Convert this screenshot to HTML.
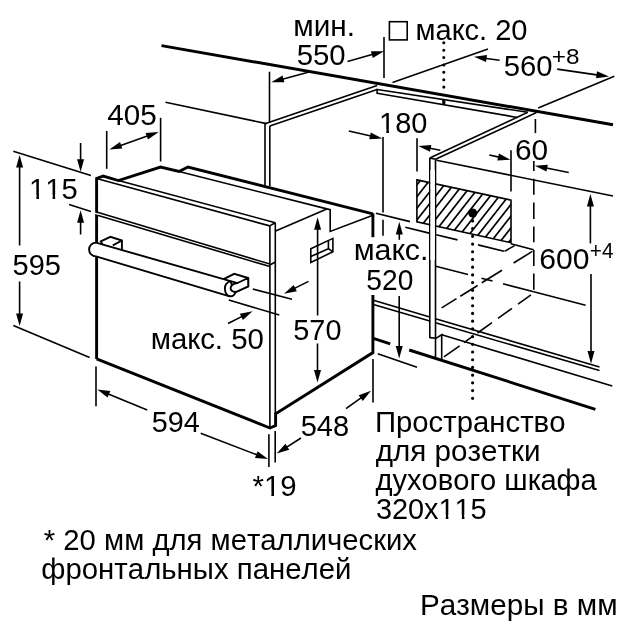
<!DOCTYPE html>
<html><head><meta charset="utf-8"><title>Oven installation dimensions</title>
<style>
html,body{margin:0;padding:0;background:#fff;}
svg{display:block;}
svg text{font-family:"Liberation Sans",sans-serif;fill:#000;stroke:none;font-kerning:none;}
svg{filter:grayscale(1);}
</style></head><body>
<svg width="625" height="625" viewBox="0 0 625 625" stroke="#000" fill="none">
<rect x="0" y="0" width="625" height="625" fill="#fff" stroke="none"/>
<path d="M161.5,45.6 L613.0,124.7" stroke-width="2.9" stroke-linecap="butt"/>
<path d="M377.1,89.5 L527.8,112.3" stroke-width="1.6" stroke-linecap="butt"/>
<path d="M377.1,93.2 L517.6,117.5" stroke-width="1.6" stroke-linecap="butt"/>
<path d="M377.1,88.8 L377.1,93.9" stroke-width="1.6" stroke-linecap="butt"/>
<path d="M442.2,99.8 L445.4,100.4 L445.4,103.6 Q443.8,105.4 442.2,103.6 Z" fill="#000" stroke="none"/>
<path d="M443.8,42.8 L443.8,87.3" stroke-width="3.1" stroke-linecap="round" stroke-dasharray="0 7.38"/>
<path d="M165.5,102.2 L266.5,123.6" stroke-width="1.6" stroke-linecap="butt"/>
<path d="M265.0,123.7 L377.1,85.6" stroke-width="1.6" stroke-linecap="butt"/>
<path d="M269.8,126.0 L377.1,89.6" stroke-width="1.6" stroke-linecap="butt"/>
<path d="M265.0,123.7 L265.0,185.0" stroke-width="1.6" stroke-linecap="butt"/>
<path d="M269.8,126.0 L269.8,186.0" stroke-width="1.6" stroke-linecap="butt"/>
<path d="M429.8,158.0 L527.8,112.3" stroke-width="1.6" stroke-linecap="butt"/>
<path d="M435.5,159.3 L536.5,112.6" stroke-width="1.6" stroke-linecap="butt"/>
<path d="M429.8,158.0 L435.5,159.3" stroke-width="1.6" stroke-linecap="butt"/>
<path d="M429.8,158.0 L429.8,338.0" stroke-width="1.6" stroke-linecap="butt"/>
<path d="M435.5,159.3 L435.5,338.0" stroke-width="1.6" stroke-linecap="butt"/>
<path d="M436.5,160.3 L613.0,196.0" stroke-width="1.6" stroke-linecap="butt"/>
<defs><clipPath id="hc"><polygon points="416.9,179.9 511,200.1 511,242.7 416.9,221.8"/></clipPath></defs>
<g clip-path="url(#hc)"><path d="M334.4,232.3 L396.9,152.3" stroke-width="1.7"/><path d="M342.2,233.9 L404.7,153.9" stroke-width="1.7"/><path d="M350.0,235.6 L412.5,155.6" stroke-width="1.7"/><path d="M357.8,237.3 L420.3,157.3" stroke-width="1.7"/><path d="M365.6,239.0 L428.1,159.0" stroke-width="1.7"/><path d="M373.4,240.6 L435.9,160.6" stroke-width="1.7"/><path d="M381.2,242.3 L443.7,162.3" stroke-width="1.7"/><path d="M389.0,244.0 L451.5,164.0" stroke-width="1.7"/><path d="M396.8,245.7 L459.3,165.7" stroke-width="1.7"/><path d="M404.6,247.3 L467.1,167.3" stroke-width="1.7"/><path d="M412.4,249.0 L474.9,169.0" stroke-width="1.7"/><path d="M420.2,250.7 L482.7,170.7" stroke-width="1.7"/><path d="M428.0,252.4 L490.5,172.4" stroke-width="1.7"/><path d="M435.8,254.0 L498.3,174.0" stroke-width="1.7"/><path d="M443.6,255.7 L506.1,175.7" stroke-width="1.7"/><path d="M451.4,257.4 L513.9,177.4" stroke-width="1.7"/><path d="M459.2,259.1 L521.7,179.1" stroke-width="1.7"/><path d="M467.0,260.7 L529.5,180.7" stroke-width="1.7"/><path d="M474.8,262.4 L537.3,182.4" stroke-width="1.7"/><path d="M482.6,264.1 L545.1,184.1" stroke-width="1.7"/><path d="M490.4,265.7 L552.9,185.7" stroke-width="1.7"/><path d="M498.2,267.4 L560.7,187.4" stroke-width="1.7"/></g>
<polygon points="416.9,179.9 511.0,200.1 511.0,242.7 416.9,221.8" fill="none" stroke="#000" stroke-width="1.6" stroke-linejoin="miter"/>
<rect x="430.4" y="170" width="4.5" height="90" fill="#fff" stroke="none"/>
<circle cx="472.7" cy="213" r="4.5" fill="#000" stroke="none"/>
<path d="M472.6,220.9 L472.6,398.4" stroke-width="3.2" stroke-linecap="round" stroke-dasharray="0 7.713"/>
<path d="M375.9,213.2 L410.0,221.6" stroke-width="1.6" stroke-linecap="butt"/>
<path d="M405.3,227.3 L429.2,233.1" stroke-width="1.6" stroke-linecap="butt"/>
<path d="M436.2,234.8 L457.5,239.9" stroke-width="1.6" stroke-linecap="butt"/>
<path d="M478.0,244.9 L504.0,251.2" stroke-width="1.6" stroke-linecap="butt"/>
<path d="M504.5,251.4 L514.5,245.6" stroke-width="1.6" stroke-linecap="butt"/>
<path d="M510.8,243.8 L533.7,249.8" stroke-width="1.6" stroke-linecap="butt"/>
<path d="M533.8,160.9 L533.8,171.1" stroke-width="1.6" stroke-linecap="butt"/>
<path d="M533.8,178.8 L533.8,194.8" stroke-width="1.6" stroke-linecap="butt"/>
<path d="M533.8,202.5 L533.8,219.1" stroke-width="1.6" stroke-linecap="butt"/>
<path d="M533.8,226.5 L533.8,242.3" stroke-width="1.6" stroke-linecap="butt"/>
<path d="M533.8,250.0 L533.8,266.0" stroke-width="1.6" stroke-linecap="butt"/>
<path d="M533.8,273.6 L533.8,289.8" stroke-width="1.6" stroke-linecap="butt"/>
<path d="M532.3,251.4 L513.6,263.0" stroke-width="1.6" stroke-linecap="butt"/>
<path d="M502.0,270.3 L481.8,282.8" stroke-width="1.6" stroke-linecap="butt"/>
<path d="M477.6,285.5 L460.3,296.2" stroke-width="1.6" stroke-linecap="butt"/>
<path d="M456.5,298.6 L441.6,307.9" stroke-width="1.6" stroke-linecap="butt"/>
<path d="M435.8,266.2 L468.0,274.6" stroke-width="1.6" stroke-linecap="butt"/>
<path d="M481.5,278.2 L492.5,281.0" stroke-width="1.6" stroke-linecap="butt"/>
<path d="M503.0,283.8 L533.7,291.8" stroke-width="1.6" stroke-linecap="butt"/>
<path d="M533.7,291.8 L585.6,305.3" stroke-width="1.6" stroke-linecap="butt"/>
<path d="M531.0,294.9 L518.0,304.2" stroke-width="1.6" stroke-linecap="butt"/>
<path d="M512.0,308.4 L498.0,318.4" stroke-width="1.6" stroke-linecap="butt"/>
<path d="M492.0,322.7 L477.5,333.0" stroke-width="1.6" stroke-linecap="butt"/>
<path d="M473.0,336.2 L464.0,342.6" stroke-width="1.6" stroke-linecap="butt"/>
<path d="M459.6,345.8 L443.9,356.9" stroke-width="1.6" stroke-linecap="butt"/>
<path d="M373.4,300.2 L429.8,317.0" stroke-width="1.6" stroke-linecap="butt"/>
<path d="M435.5,318.7 L599.5,367.0" stroke-width="1.6" stroke-linecap="butt"/>
<path d="M373.4,304.5 L429.8,321.0" stroke-width="1.6" stroke-linecap="butt"/>
<path d="M435.5,322.7 L599.5,370.6" stroke-width="1.6" stroke-linecap="butt"/>
<path d="M441.7,334.8 L612.3,386.0" stroke-width="1.6" stroke-linecap="butt"/>
<path d="M373.4,338.4 L390.2,343.8" stroke-width="2.9" stroke-linecap="butt"/>
<path d="M409.2,350.0 L595.4,409.3" stroke-width="2.9" stroke-linecap="butt"/>
<path d="M377.8,353.8 L417.0,367.3" stroke-width="1.6" stroke-linecap="butt"/>
<path d="M429.8,337.6 L436.2,338.3" stroke-width="1.6" stroke-linecap="butt"/>
<path d="M435.5,338.0 L435.5,357.5" stroke-width="1.6" stroke-linecap="butt"/>
<path d="M435.8,338.4 L441.7,334.8 L441.7,359.0" stroke-width="1.6" stroke-linecap="butt"/>
<path d="M106.7,131.0 L106.7,168.8" stroke-width="1.6" stroke-linecap="butt"/>
<path d="M160.6,117.8 L160.6,161.5" stroke-width="1.6" stroke-linecap="butt"/>
<path d="M134.0,140.7 L119.3,145.9" stroke-width="1.6" stroke-linecap="butt"/>
<polygon points="109.3,149.4 120.0,141.9 122.3,148.5" fill="#000" stroke="none"/>
<path d="M134.0,140.7 L148.7,135.6" stroke-width="1.6" stroke-linecap="butt"/>
<polygon points="158.7,132.1 148.0,139.5 145.6,132.9" fill="#000" stroke="none"/>
<path d="M13.3,151.3 L90.9,175.6" stroke-width="1.6" stroke-linecap="butt"/>
<path d="M69.1,204.5 L90.9,211.4" stroke-width="1.6" stroke-linecap="butt"/>
<path d="M80.6,143.0 L80.6,161.2" stroke-width="1.6" stroke-linecap="butt"/>
<polygon points="80.6,171.8 77.1,159.2 84.1,159.2" fill="#000" stroke="none"/>
<path d="M80.6,234.5 L80.6,220.8" stroke-width="1.6" stroke-linecap="butt"/>
<polygon points="80.6,210.2 84.1,222.8 77.1,222.8" fill="#000" stroke="none"/>
<path d="M19.6,245.5 L19.6,165.6" stroke-width="1.6" stroke-linecap="butt"/>
<polygon points="19.6,155.0 23.1,167.6 16.1,167.6" fill="#000" stroke="none"/>
<path d="M19.6,281.5 L19.6,315.4" stroke-width="1.6" stroke-linecap="butt"/>
<polygon points="19.6,326.0 16.1,313.4 23.1,313.4" fill="#000" stroke="none"/>
<path d="M13.3,325.6 L89.6,357.6" stroke-width="1.6" stroke-linecap="butt"/>
<path d="M96.0,366.6 L96.0,406.2" stroke-width="1.6" stroke-linecap="butt"/>
<path d="M147.2,410.0 L107.1,393.6" stroke-width="1.6" stroke-linecap="butt"/>
<polygon points="97.3,389.6 110.3,391.1 107.6,397.6" fill="#000" stroke="none"/>
<path d="M200.7,433.3 L258.1,455.3" stroke-width="1.6" stroke-linecap="butt"/>
<polygon points="268.0,459.1 255.0,457.9 257.5,451.3" fill="#000" stroke="none"/>
<path d="M268.9,434.2 L268.9,467.0" stroke-width="1.6" stroke-linecap="butt"/>
<path d="M275.2,431.0 L275.2,462.5" stroke-width="1.6" stroke-linecap="butt"/>
<path d="M301.0,438.0 L285.6,447.9" stroke-width="1.6" stroke-linecap="butt"/>
<polygon points="276.7,453.6 285.4,443.8 289.2,449.7" fill="#000" stroke="none"/>
<path d="M346.0,408.6 L362.4,396.9" stroke-width="1.6" stroke-linecap="butt"/>
<polygon points="371.0,390.7 362.8,400.9 358.7,395.2" fill="#000" stroke="none"/>
<path d="M373.0,358.9 L373.0,402.4" stroke-width="1.6" stroke-linecap="butt"/>
<path d="M317.6,315.5 L317.6,227.8" stroke-width="1.6" stroke-linecap="butt"/>
<polygon points="317.6,217.2 321.1,229.8 314.1,229.8" fill="#000" stroke="none"/>
<path d="M317.5,343.5 L317.5,372.0" stroke-width="1.6" stroke-linecap="butt"/>
<polygon points="317.5,382.6 314.0,370.0 321.0,370.0" fill="#000" stroke="none"/>
<path d="M252.8,289.1 L292.0,299.2" stroke-width="1.6" stroke-linecap="butt"/>
<path d="M228.8,300.0 L279.3,315.0" stroke-width="1.6" stroke-linecap="butt"/>
<path d="M308.5,281.4 L293.5,288.9" stroke-width="1.6" stroke-linecap="butt"/>
<polygon points="284.0,293.7 293.7,284.9 296.8,291.2" fill="#000" stroke="none"/>
<path d="M228.0,323.5 L243.1,315.9" stroke-width="1.6" stroke-linecap="butt"/>
<polygon points="252.6,311.2 242.9,320.0 239.8,313.7" fill="#000" stroke="none"/>
<path d="M269.5,71.7 L269.5,123.0" stroke-width="1.6" stroke-linecap="butt"/>
<path d="M310.0,71.7 L281.5,79.4" stroke-width="1.6" stroke-linecap="butt"/>
<polygon points="271.3,82.2 282.5,75.5 284.4,82.3" fill="#000" stroke="none"/>
<path d="M347.5,61.5 L373.8,54.1" stroke-width="1.6" stroke-linecap="butt"/>
<polygon points="384.0,51.2 372.8,58.0 370.9,51.3" fill="#000" stroke="none"/>
<path d="M384.0,37.0 L384.0,78.1" stroke-width="1.6" stroke-linecap="butt"/>
<path d="M392.5,82.5 L488.0,49.0" stroke-width="1.6" stroke-linecap="butt"/>
<path d="M499.6,60.2 L484.5,58.2" stroke-width="1.6" stroke-linecap="butt"/>
<polygon points="474.0,56.8 487.0,55.0 486.0,61.9" fill="#000" stroke="none"/>
<path d="M557.2,69.1 L598.5,75.1" stroke-width="1.6" stroke-linecap="butt"/>
<polygon points="609.0,76.6 596.0,78.3 597.0,71.3" fill="#000" stroke="none"/>
<path d="M538.2,108.1 L614.3,76.3" stroke-width="1.6" stroke-linecap="butt"/>
<path d="M348.8,131.0 L372.0,136.3" stroke-width="1.6" stroke-linecap="butt"/>
<polygon points="382.3,138.6 369.2,139.2 370.8,132.4" fill="#000" stroke="none"/>
<path d="M383.0,137.0 L383.0,212.6" stroke-width="1.6" stroke-linecap="butt"/>
<path d="M383.0,219.8 L383.0,235.8" stroke-width="1.6" stroke-linecap="butt"/>
<path d="M417.0,138.2 L417.0,171.5" stroke-width="1.6" stroke-linecap="butt"/>
<path d="M440.3,150.2 L428.7,148.0" stroke-width="1.6" stroke-linecap="butt"/>
<polygon points="418.3,146.0 431.3,144.9 430.0,151.8" fill="#000" stroke="none"/>
<path d="M535.4,119.0 L535.4,133.1" stroke-width="1.6" stroke-linecap="butt"/>
<path d="M489.3,155.0 L500.1,157.4" stroke-width="1.6" stroke-linecap="butt"/>
<polygon points="510.4,159.8 497.3,160.4 498.9,153.6" fill="#000" stroke="none"/>
<path d="M511.0,150.2 L511.0,191.5" stroke-width="1.6" stroke-linecap="butt"/>
<path d="M568.7,172.5 L545.2,167.8" stroke-width="1.6" stroke-linecap="butt"/>
<polygon points="534.8,165.7 547.8,164.7 546.5,171.6" fill="#000" stroke="none"/>
<path d="M590.4,243.4 L590.4,204.6" stroke-width="1.6" stroke-linecap="butt"/>
<polygon points="590.4,194.0 593.9,206.6 586.9,206.6" fill="#000" stroke="none"/>
<path d="M591.0,274.0 L591.0,353.1" stroke-width="1.6" stroke-linecap="butt"/>
<polygon points="591.0,363.7 587.5,351.1 594.5,351.1" fill="#000" stroke="none"/>
<path d="M399.3,239.8 L399.3,232.4" stroke-width="1.6" stroke-linecap="butt"/>
<polygon points="399.3,221.8 402.8,234.4 395.8,234.4" fill="#000" stroke="none"/>
<path d="M399.2,295.9 L399.2,347.9" stroke-width="1.6" stroke-linecap="butt"/>
<polygon points="399.2,358.5 395.7,345.9 402.7,345.9" fill="#000" stroke="none"/>
<path d="M96.6,358.9 L96.6,178.5 L103.2,176.1 L118.4,180.6 L160.5,167.0 L179.0,171.5 L188.0,167.0 L372.9,213.8" stroke-width="2.9" stroke-linecap="butt" stroke-linejoin="miter"/>
<path d="M372.9,213.4 L372.9,237.2" stroke-width="2.9" stroke-linecap="butt"/>
<path d="M372.9,295.0 L372.9,352.6 L275.6,413.8 L275.6,425.6 L270.0,428.0 L96.6,358.9" stroke-width="2.9" stroke-linecap="butt" stroke-linejoin="miter"/>
<path d="M179.0,171.5 L326.8,208.9" stroke-width="1.6" stroke-linecap="butt"/>
<path d="M326.8,208.9 L275.6,231.0" stroke-width="1.6" stroke-linecap="butt"/>
<path d="M326.8,208.9 L330.2,209.6 L330.2,231.4 L372.9,215.3" stroke-width="1.6" stroke-linecap="butt"/>
<path d="M96.6,178.5 L269.7,225.9" stroke-width="1.7" stroke-linecap="butt"/>
<path d="M118.4,180.6 L275.3,222.7" stroke-width="1.6" stroke-linecap="butt"/>
<path d="M269.7,225.9 L275.3,222.7" stroke-width="1.6" stroke-linecap="butt"/>
<path d="M269.9,225.9 L269.9,427.0" stroke-width="1.6" stroke-linecap="butt"/>
<path d="M275.3,222.7 L275.3,414.0" stroke-width="1.6" stroke-linecap="butt"/>
<path d="M96.6,212.0 L269.9,264.0" stroke-width="1.6" stroke-linecap="butt"/>
<path d="M96.6,215.0 L269.9,266.6" stroke-width="1.6" stroke-linecap="butt"/>
<path d="M269.9,265.0 L275.3,262.0" stroke-width="1.6" stroke-linecap="butt"/>
<path d="M94.0,212.9 L98.6,214.3" stroke-width="1.3" stroke-linecap="butt" style="stroke:#fff"/>
<polygon points="310.8,248.8 332.9,238.4 332.9,251.8 310.8,262.4" fill="none" stroke="#000" stroke-width="1.6" stroke-linejoin="miter"/>
<path d="M328.4,240.5 L328.4,248.7 L310.8,256.6" stroke-width="1.6" stroke-linecap="butt"/>
<path d="M328.4,248.7 L332.9,251.8" stroke-width="1.6" stroke-linecap="butt"/>
<polygon points="100.8,241.4 110.4,236.8 121.9,240.5 121.9,251.0 104.0,247.0" fill="#fff" stroke="#000" stroke-width="1.9" stroke-linejoin="miter"/>
<path d="M112.8,245.4 L121.9,240.5" stroke-width="1.9" stroke-linecap="butt"/>
<polygon points="224.1,278.8 234.2,273.8 248.2,278.0 248.2,286.4 235.8,292.0 228.0,292.0" fill="#fff" stroke="#000" stroke-width="1.9" stroke-linejoin="miter"/>
<path d="M96,242.6 L237.5,283.2 L236,292 L229.7,296.3 L96,256.4 A6.9,6.9 0 0 1 96,242.6 Z" stroke="none" style="stroke:none" fill="#fff"/>
<path d="M237.5,283.2 L96,242.6 A6.9,6.9 0 0 0 96,256.4 L229.7,296.3" stroke-width="1.9" fill="none" stroke-linejoin="round"/>
<path d="M230.2,281.2 C226.8,282.5 224.8,285.5 224.9,288.8 C225,292.5 226.8,296 230,296.3 C233,296.5 234.8,294.6 235.6,292 Z" stroke-width="1.9" fill="#fff" stroke-linejoin="round"/>
<path d="M248.2,278 L237.5,283 C233.5,283.6 230.6,285.8 230.6,288.3 C230.6,290.6 232.5,291.8 235.8,292 L248.2,286.4 Z" stroke-width="1.9" fill="#fff" stroke-linejoin="round"/>
<g transform="translate(107.32,125) scale(0.9874,1)"><text font-size="30">405</text></g>
<g transform="translate(293.24,35.7) scale(0.9919,1)"><text font-size="30">мин.</text></g>
<g transform="translate(296.63,64.8) scale(0.9773,1)"><text font-size="30">550</text></g>
<rect x="389.4" y="21.7" width="17.8" height="18.2" fill="none" stroke="#000" stroke-width="1.6"/>
<g transform="translate(415.58,40) scale(0.9695,1)"><text font-size="30">макс. 20</text></g>
<g transform="translate(503.63,75.5) scale(0.9752,1)"><text font-size="30">560</text></g>
<g transform="translate(551.81,64.2) scale(1.1062,1)"><text font-size="22">+8</text></g>
<g transform="translate(379.01,133) scale(0.9675,1)"><text font-size="30">180</text><rect x="1.46" y="-3.66" width="6.08" height="4.69" fill="#fff" stroke="none"/><rect x="10.20" y="-3.66" width="5.92" height="4.69" fill="#fff" stroke="none"/></g>
<g transform="translate(514.89,160) scale(0.9943,1)"><text font-size="30">60</text></g>
<g transform="translate(29.10,198.6) scale(0.9693,1)"><text font-size="30">115</text><rect x="1.46" y="-3.66" width="6.08" height="4.69" fill="#fff" stroke="none"/><rect x="10.20" y="-3.66" width="5.92" height="4.69" fill="#fff" stroke="none"/><rect x="18.15" y="-3.66" width="6.08" height="4.69" fill="#fff" stroke="none"/><rect x="26.88" y="-3.66" width="5.92" height="4.69" fill="#fff" stroke="none"/></g>
<g transform="translate(12.54,275.2) scale(0.9665,1)"><text font-size="30">595</text></g>
<rect x="354" y="243" width="72" height="50" fill="#fff" stroke="none"/>
<g transform="translate(353.69,259.8) scale(1.0152,1)"><text font-size="30">макс.</text></g>
<g transform="translate(366.37,289.8) scale(0.9375,1)"><text font-size="30">520</text></g>
<g transform="translate(539.27,269) scale(1.0030,1)"><text font-size="30">600</text></g>
<g transform="translate(589.79,257.8) scale(0.9416,1)"><text font-size="22">+4</text></g>
<g transform="translate(150.76,348.6) scale(0.9802,1)"><text font-size="30">макс. 50</text></g>
<g transform="translate(293.35,339.8) scale(0.9606,1)"><text font-size="30">570</text></g>
<g transform="translate(151.65,431.8) scale(0.9589,1)"><text font-size="30">594</text></g>
<g transform="translate(300.64,435.7) scale(0.9674,1)"><text font-size="30">548</text></g>
<g transform="translate(252.53,496.4) scale(0.9805,1)"><text font-size="30">*19</text><rect x="13.14" y="-3.66" width="6.08" height="4.69" fill="#fff" stroke="none"/><rect x="21.87" y="-3.66" width="5.92" height="4.69" fill="#fff" stroke="none"/></g>
<g transform="translate(374.92,431.5) scale(0.9776,1)"><text font-size="30">Пространство</text></g>
<g transform="translate(375.71,460.5) scale(0.9876,1)"><text font-size="30">для розетки</text></g>
<g transform="translate(375.52,489.5) scale(0.9705,1)"><text font-size="30">духового шкафа</text></g>
<g transform="translate(375.90,518.5) scale(0.9627,1)"><text font-size="30">320x115</text><rect x="66.52" y="-3.66" width="6.08" height="4.69" fill="#fff" stroke="none"/><rect x="75.25" y="-3.66" width="5.92" height="4.69" fill="#fff" stroke="none"/><rect x="83.20" y="-3.66" width="6.08" height="4.69" fill="#fff" stroke="none"/><rect x="91.93" y="-3.66" width="5.92" height="4.69" fill="#fff" stroke="none"/></g>
<g transform="translate(43.83,550.2) scale(0.9759,1)"><text font-size="30">* 20 мм для металлических</text></g>
<g transform="translate(41.27,579) scale(0.9795,1)"><text font-size="30">фронтальных панелей</text></g>
<g transform="translate(419.97,614.6) scale(0.9891,1)"><text font-size="30">Размеры в мм</text></g>
</svg>
</body></html>
